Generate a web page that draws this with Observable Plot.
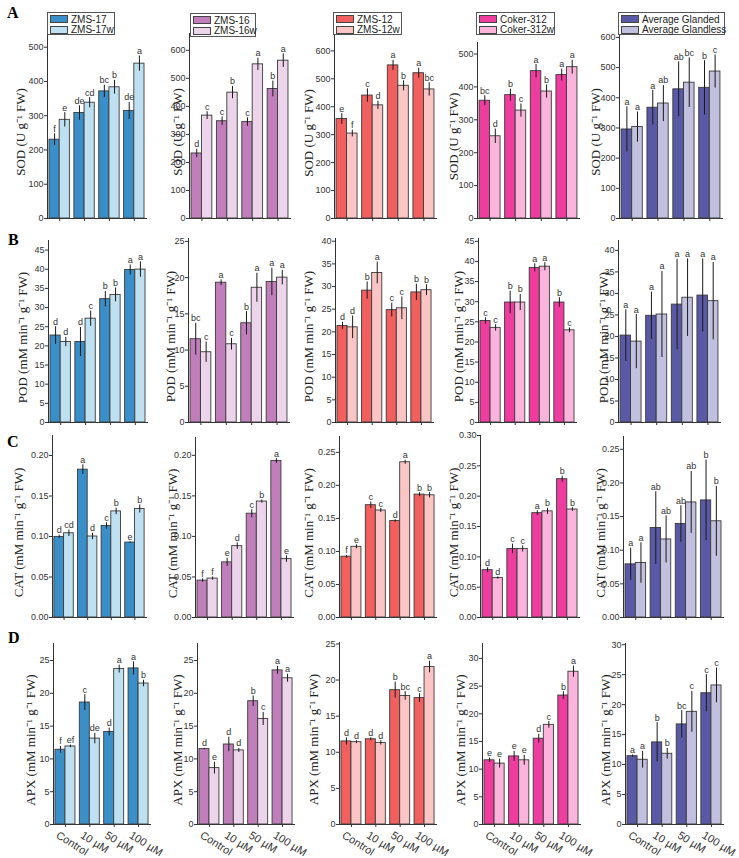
<!DOCTYPE html>
<html><head><meta charset="utf-8">
<script src="https://cdn.jsdelivr.net/npm/d3@7"></script>
<script src="https://cdn.jsdelivr.net/npm/@observablehq/plot@0.6"></script>
<style>
body{margin:0;background:#fff;}
#chart{position:relative;width:739px;height:858px;overflow:hidden;background:#fff;font-family:"Liberation Sans",Arial,sans-serif;}
.panel{position:absolute;}
.panel svg{overflow:visible;background:transparent;}
.legend{position:absolute;border:1px solid #555;background:#fff;box-sizing:border-box;padding:1px 2px;font-size:10px;color:#222;}
.legend .row{display:flex;align-items:center;height:10.5px;white-space:nowrap;}
.legend .sw{width:18px;height:8px;border:1px solid #444;margin-right:3px;box-sizing:border-box;flex:none;}
.rowlabel{position:absolute;font-family:"Liberation Serif",serif;font-weight:bold;font-size:16px;line-height:16px;}
</style></head><body><div id="chart"></div>
<script>
// ---------- data ----------
const doses = ["Control", "10 µM", "50 µM", "100 µM"];
const glanded = ["ZMS-17", "ZMS-16", "ZMS-12", "Coker-312", "Average Glanded"];
const glandless = ["ZMS-17w", "ZMS-16w", "ZMS-12w", "Coker-312w", "Average Glandless"];
const rowNames = ["A", "B", "C", "D"];
const yLabels = ["SOD (U g⁻¹ FW)", "POD (mM min⁻¹ g⁻¹ FW)", "CAT (mM min⁻¹ g⁻¹ FW)", "APX (mM min⁻¹ g⁻¹ FW)"];

// SOD
const sodG  = [[230,308,371,314],[232,347,344,462],[356,440,548,520],[358,375,448,436],[295,367,428,433]];
const sodGe = [[17,21,18,25],[15,15,15,28],[19,24,18,18],[15,18,20,18],[75,57,91,90]];
const sodW  = [[288,338,383,452],[367,449,550,563],[304,405,475,462],[250,328,386,460],[303,381,450,487]];
const sodWe = [[21,15,20,22],[14,22,22,24],[12,15,18,24],[22,20,20,21],[50,60,82,55]];
const sodGL = [["f","de","bc","de"],["d","c","c","b"],["e","c","a","a"],["bc","b","a","a"],["a","a","ab","b"]];
const sodWL = [["e","cd","b","a"],["c","b","a","a"],["f","d","b","bc"],["d","c","b","a"],["a","ab","bc","c"]];
const sodTicks = [[0,100,200,300,400,500],[0,100,200,300,400,500,600],[0,100,200,300,400,500,600],[0,100,200,300,400,500],[0,100,200,300,400,500,600]];
const sodMax = [540,660,655,535,613];

// POD
const podG  = [[22.7,21.0,32.2,39.8],[11.5,19.3,13.7,19.4],[21.3,29.1,24.8,28.7],[25.2,29.8,38.4,29.8],[20.2,24.8,27.4,29.5]];
const podGe = [[2.3,3.8,2.0,1.3],[2.2,0.4,1.6,1.9],[0.8,1.9,1.5,1.8],[0.8,2.8,1.0,1.2],[6.0,5.5,10.5,8.5]];
const podW  = [[21.0,27.1,33.3,39.9],[9.7,10.8,18.6,20.0],[21.0,33.0,25.2,29.2],[23.5,29.8,38.7,22.9],[18.8,25.1,29.0,28.2]];
const podWe = [[1.2,2.0,1.8,2.0],[1.4,0.8,2.0,1.0],[2.5,2.4,2.5,1.2],[0.8,2.0,1.0,0.6],[6.3,10.0,9.0,9.0]];
const podGL = [["d","d","b","a"],["bc","a","b","a"],["d","b","c","b"],["c","b","a","b"],["a","a","a","a"]];
const podWL = [["d","c","b","a"],["c","c","a","a"],["d","a","c","b"],["c","b","a","c"],["a","a","a","a"]];
const podTicks = [[0,5,10,15,20,25,30,35,40,45],[0,5,10,15,20,25],[0,5,10,15,20,25,30,35,40],[0,5,10,15,20,25,30,35,40,45],[0,5,10,15,20,25,30,35,40]];
const podMax = [47.5,25.4,40.6,45.7,42.3];

// CAT
const catG  = [[0.0995,0.1825,0.113,0.0925],[0.0455,0.068,0.128,0.193],[0.092,0.170,0.146,0.186],[0.078,0.113,0.172,0.228],[0.079,0.133,0.139,0.174]];
const catGe = [[0.002,0.006,0.004,0.001],[0.002,0.005,0.005,0.003],[0.002,0.005,0.002,0.003],[0.004,0.008,0.004,0.005],[0.024,0.054,0.027,0.060]];
const catW  = [[0.104,0.100,0.131,0.134],[0.048,0.088,0.143,0.072],[0.107,0.162,0.235,0.185],[0.065,0.113,0.175,0.178],[0.081,0.116,0.171,0.143]];
const catWe = [[0.004,0.004,0.004,0.005],[0.002,0.004,0.002,0.004],[0.003,0.003,0.003,0.004],[0.002,0.005,0.005,0.003],[0.030,0.035,0.046,0.052]];
const catGL = [["d","a","c","e"],["f","e","c","a"],["f","c","d","b"],["d","c","a","b"],["a","ab","ab","b"]];
const catWL = [["cd","d","b","b"],["f","d","b","e"],["e","c","a","b"],["d","c","b","b"],["a","ab","ab","b"]];
const catTicks = [[0,0.05,0.10,0.15,0.20],[0,0.05,0.10,0.15,0.20],[0,0.05,0.10,0.15,0.20,0.25],[0,0.05,0.10,0.15,0.20,0.25,0.30],[0,0.05,0.10,0.15,0.20,0.25]];
const catMax = [0.2247,0.222,0.274,0.30,0.269];

// APX
const apxG  = [[11.4,18.6,14.1,23.8],[11.5,12.2,18.8,23.5],[11.5,11.8,18.6,17.5],[11.6,12.3,15.5,23.3],[11.4,13.7,16.7,21.9]];
const apxGe = [[0.5,1.2,0.6,1.0],[0.1,1.1,0.8,0.6],[0.5,0.2,1.1,0.6],[0.4,0.9,0.8,0.7],[0.2,3.3,2.3,3.1]];
const apxW  = [[11.9,13.1,23.7,21.5],[8.6,11.3,16.1,22.3],[11.4,11.3,17.8,21.8],[11.0,11.6,18.0,27.6],[10.8,11.8,18.8,23.2]];
const apxWe = [[0.2,0.8,0.6,0.5],[0.9,0.3,1.0,0.6],[0.2,0.3,0.6,0.8],[0.8,0.9,0.6,1.0],[1.4,0.9,3.4,2.9]];
const apxGL = [["f","c","d","a"],["d","d","b","a"],["d","d","b","c"],["e","e","d","b"],["a","b","bc","c"]];
const apxWL = [["ef","de","a","b"],["e","d","c","a"],["d","d","bc","a"],["e","e","c","a"],["a","b","c","c"]];
const apxTicks = [[0,5,10,15,20,25],[0,5,10,15,20,25],[0,5,10,15,20,25],[0,5,10,15,20,25,30],[0,5,10,15,20,25,30]];
const apxMax = [27.6,27.6,25.2,32.7,30.2];

// ---------- style / layout ----------
const darkColors  = ["#3b8fc9","#c07fbb","#f25f5f","#ee3c9f","#5a59a6"];
const lightColors = ["#bfe0f0","#ecd4ea","#fbc5c5","#fbb4db","#c1c0df"];

const rowsData = [
  {G: sodG, Ge: sodGe, W: sodW, We: sodWe, GL: sodGL, WL: sodWL, ticks: sodTicks, max: sodMax, fmt: d3.format("d")},
  {G: podG, Ge: podGe, W: podW, We: podWe, GL: podGL, WL: podWL, ticks: podTicks, max: podMax, fmt: d3.format("d")},
  {G: catG, Ge: catGe, W: catW, We: catWe, GL: catGL, WL: catWL, ticks: catTicks, max: catMax, fmt: d3.format(".2f")},
  {G: apxG, Ge: apxGe, W: apxW, We: apxWe, GL: apxGL, WL: apxWL, ticks: apxTicks, max: apxMax, fmt: d3.format("d")}
];

const plotTop = [[33,33,35,42,33],[240,238,238,238,240],[435,437,436,435,436],[643,643,642,643,643]];
const plotZero = [218,422,617,824];
const axisL = [[47,189,334,477,619],[48,188,335,478,618],[52,195,339,480,623],[53,197,339,482,625]];
const axisR = [[146,290,436,579,722],[147,289,433,576,720],[146,293,436,579,723],[150,294,436,580,723]];
const labelX = [[20,177,308,453,595],[22,170,308,458,603],[18,172,308,453,600],[30,177,313,460,605]];
const legendBox = [[47,12,68,23],[190,13,66,24],[333,12,69,23],[476,12,79,23],[618,12,107,23]];
const rowLetterPos = [[7,5],[8,232],[7,434],[8,630]];

const chart = document.getElementById("chart");
const pI = 0.18, pO = 0.08;

for (let r = 0; r < 4; r++) {
  const R = rowsData[r];
  for (let c = 0; c < 5; c++) {
    const rows = doses.map((d, i) => ({
      dose: d, g: R.G[c][i], ge: R.Ge[c][i], w: R.W[c][i], we: R.We[c][i], gl: R.GL[c][i], wl: R.WL[c][i]
    }));
    const L = axisL[r][c], Rt = axisR[r][c], top = plotTop[r][c], zero = plotZero[r];
    const mL = L - labelX[r][c] + 10, mR = 6, mT = 6, mB = r === 3 ? 42 : 8;
    const width = Rt - L + mL + mR, height = zero - top + mT + mB;
    const step = (Rt - L) / (doses.length - pI + 2 * pO);
    const bw = step * (1 - pI);
    const bottom = r === 3;
    const marks = [
      Plot.barY(rows, {x: "dose", y: "g", fill: darkColors[c], stroke: "#3a3a3a", strokeWidth: 0.9, insetLeft: 0, insetRight: bw / 2}),
      Plot.barY(rows, {x: "dose", y: "w", fill: lightColors[c], stroke: "#3a3a3a", strokeWidth: 0.9, insetLeft: bw / 2, insetRight: 0}),
      Plot.ruleX(rows, {x: "dose", y1: d => d.g - d.ge, y2: d => d.g + d.ge, dx: -bw / 4, stroke: "#1a1a1a", strokeWidth: 1}),
      Plot.ruleX(rows, {x: "dose", y1: d => d.w - d.we, y2: d => d.w + d.we, dx: bw / 4, stroke: "#1a1a1a", strokeWidth: 1}),
      Plot.text(rows, {x: "dose", y: d => d.g + d.ge, text: "gl", dx: -bw / 4, dy: -2, lineAnchor: "bottom", fontSize: 9, fill: "#333"}),
      Plot.text(rows, {x: "dose", y: d => d.w + d.we, text: "wl", dx: bw / 4, dy: -2, lineAnchor: "bottom", fontSize: 9, fill: "#333"}),
      Plot.text([yLabels[r]], {frameAnchor: "left", textAnchor: "middle", lineAnchor: "middle", rotate: -90, dx: labelX[r][c] - L, dy: 6,
        fontFamily: "Liberation Serif, Times New Roman, serif", fontSize: 13, fill: "#222"})
    ];
    if (bottom) {
      marks.push(Plot.text(doses, {x: d => d, text: d => d, frameAnchor: "bottom", textAnchor: "start", lineAnchor: "top",
        rotate: 32, dx: -6, dy: 6, fontSize: 11, fill: "#333"}));
    }
    const svg = Plot.plot({
      width, height, marginLeft: mL, marginRight: mR, marginTop: mT, marginBottom: mB,
      style: {fontSize: "9px", fontFamily: "Liberation Sans, Arial, sans-serif", color: "#333", background: "transparent", overflow: "visible"},
      x: {domain: doses, paddingInner: pI, paddingOuter: pO, align: 0.5, round: false, label: null, line: true,
          tickSize: 3, tickPadding: 2, tickFormat: () => ""},
      y: {domain: [0, R.max[c]], ticks: R.ticks[c], tickFormat: R.fmt, tickSize: 3, tickPadding: 1, line: true, label: null},
      marks
    });
    const div = document.createElement("div");
    div.className = "panel";
    div.style.left = (L - mL) + "px";
    div.style.top = (top - mT) + "px";
    div.appendChild(svg);
    chart.appendChild(div);
  }
}

// legends (HTML, top row)
for (let c = 0; c < 5; c++) {
  const [x, y, w, h] = legendBox[c];
  const lg = document.createElement("div");
  lg.className = "legend";
  Object.assign(lg.style, {left: x + "px", top: y + "px", width: w + "px", height: h + "px"});
  [[glanded[c], darkColors[c]], [glandless[c], lightColors[c]]].forEach(([name, col]) => {
    const row = document.createElement("div");
    row.className = "row";
    const sw = document.createElement("span");
    sw.className = "sw";
    sw.style.background = col;
    const t = document.createElement("span");
    t.textContent = name;
    row.appendChild(sw); row.appendChild(t);
    lg.appendChild(row);
  });
  chart.appendChild(lg);
}

// row letters
rowNames.forEach((n, i) => {
  const el = document.createElement("div");
  el.className = "rowlabel";
  el.textContent = n;
  el.style.left = rowLetterPos[i][0] + "px";
  el.style.top = rowLetterPos[i][1] + "px";
  chart.appendChild(el);
});
</script></body></html>
